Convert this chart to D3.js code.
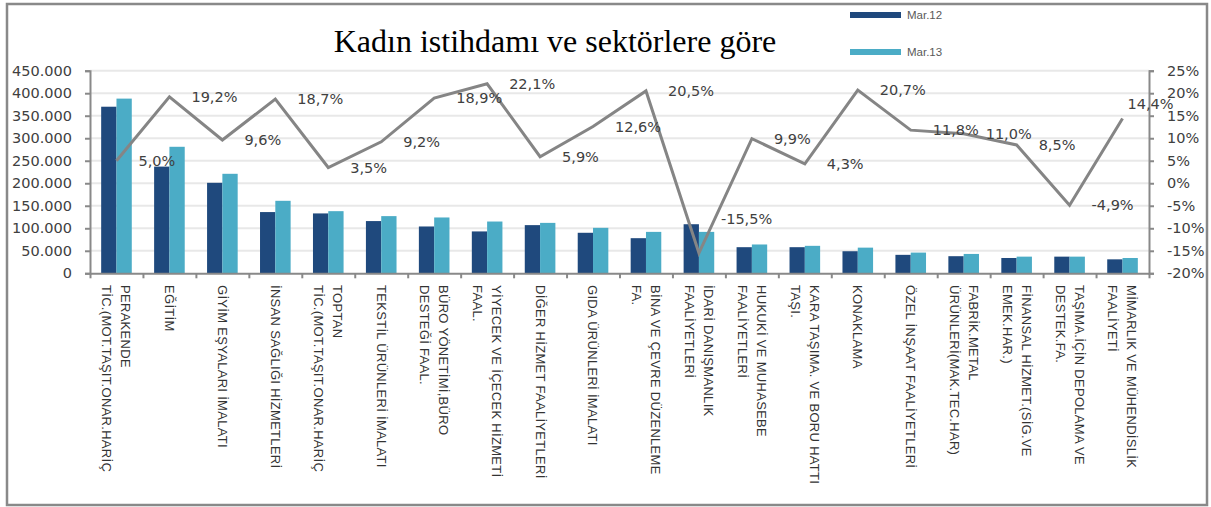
<!DOCTYPE html>
<html>
<head>
<meta charset="utf-8">
<script src="https://cdn.jsdelivr.net/npm/d3@7"></script>
<style>
  body { margin: 0; background: #fff; }
  svg { display: block; }
  .axis text { font-family: "DejaVu Sans", sans-serif; font-size: 14.5px; fill: #404040; }
  .axis path, .axis line { stroke: #898989; stroke-width: 2; }
</style>
</head>
<body>
<div id="chart"></div>
<script>
const categories = [
  ['PERAKENDE', 'TİC.(MOT.TAŞIT.ONAR.HARİÇ'],
  ['EĞİTİM'],
  ['GİYİM EŞYALARI İMALATI'],
  ['İNSAN SAĞLIĞI HİZMETLERİ'],
  ['TOPTAN', 'TİC.(MOT.TAŞIT.ONAR.HARİÇ'],
  ['TEKSTİL ÜRÜNLERİ İMALATI'],
  ['BÜRO YÖNETİMİ,BÜRO', 'DESTEĞİ FAAL.'],
  ['YİYECEK VE İÇECEK HİZMETİ', 'FAAL.'],
  ['DİĞER HİZMET FAALİYETLERİ'],
  ['GIDA ÜRÜNLERİ İMALATI'],
  ['BİNA VE ÇEVRE DÜZENLEME', 'FA.'],
  ['İDARİ DANIŞMANLIK', 'FAALİYETLERİ'],
  ['HUKUKİ VE MUHASEBE', 'FAALİYETLERİ'],
  ['KARA TAŞIMA. VE BORU HATTI', 'TAŞI.'],
  ['KONAKLAMA'],
  ['ÖZEL İNŞAAT FAALİYETLERİ'],
  ['FABRİK.METAL', 'ÜRÜNLERİ(MAK.TEC.HAR)'],
  ['FİNANSAL HİZMET.(SİG.VE', 'EMEK.HAR.)'],
  ['TAŞIMA.İÇİN DEPOLAMA VE', 'DESTEK.FA.'],
  ['MİMARLIK VE MÜHENDİSLİK', 'FAALİYETİ'],
];

const seriesNames = ['Mar.12', 'Mar.13'];
const mar12 = [370000, 237000, 201000, 136000, 133000, 116000, 104000, 93000, 107000, 90000,
  78000, 109000, 58000, 58000, 49000, 41000, 38000, 34000, 37000, 31000];
const mar13 = [388000, 281000, 221000, 161000, 138000, 127000, 124000, 115000, 112000, 101000,
  92000, 92000, 64000, 61000, 57000, 46000, 43000, 37000, 37000, 34000];
const change = [5.0, 19.2, 9.6, 18.7, 3.5, 9.2, 18.9, 22.1, 5.9, 12.6,
  20.5, -15.5, 9.9, 4.3, 20.7, 11.8, 11.0, 8.5, -4.9, 14.4];

const leftTicks = [0, 50000, 100000, 150000, 200000, 250000, 300000, 350000, 400000, 450000];
const rightTicks = [-20, -15, -10, -5, 0, 5, 10, 15, 20, 25];

const title = 'Kadın istihdamı ve sektörlere göre';
const colors = ['#1f497d', '#4bacc6'];

const width = 1211;
const height = 507;
const plot = { left: 90, right: 1149, top: 70.7, bottom: 273.3 };

const svg = d3.select('#chart').append('svg').attr('width', width).attr('height', height);

// outer frame
svg.append('rect')
  .attr('x', 7).attr('y', 4).attr('width', 1200).attr('height', 501)
  .attr('fill', 'none').attr('stroke', '#898989').attr('stroke-width', 2.5);

const x = d3.scaleBand().domain(d3.range(categories.length)).range([plot.left, plot.right]);
const xSub = d3.scaleBand().domain([0, 1]).range([0, x.bandwidth()]).paddingOuter(0.73);
const y = d3.scaleLinear().domain([0, 450000]).range([plot.bottom, plot.top]);
const y2 = d3.scaleLinear().domain([-20, 25]).range([plot.bottom, plot.top]);

// gridlines
svg.append('g').selectAll('line')
  .data(leftTicks.slice(1))
  .join('line')
  .attr('x1', plot.left).attr('x2', plot.right)
  .attr('y1', d => y(d)).attr('y2', d => y(d))
  .attr('stroke', '#e8e8e8').attr('stroke-width', 2);

// bars
const table = categories.map((c, i) => [mar12[i], mar13[i]]);
svg.append('g').selectAll('g')
  .data(table)
  .join('g')
  .attr('transform', (d, i) => `translate(${x(i)},0)`)
  .selectAll('rect')
  .data(d => d)
  .join('rect')
  .attr('x', (d, j) => xSub(j))
  .attr('width', xSub.bandwidth())
  .attr('y', d => y(d))
  .attr('height', d => y(0) - y(d))
  .attr('fill', (d, j) => colors[j]);

// axes
const fmtThousands = d => (d === 0 ? '0' : d3.format(',')(d).replace(/,/g, '.'));
svg.append('g').attr('class', 'axis')
  .attr('transform', `translate(${plot.left},0)`)
  .call(d3.axisLeft(y).tickValues(leftTicks).tickFormat(fmtThousands).tickSize(5).tickSizeOuter(5).tickPadding(13));

svg.append('g').attr('class', 'axis')
  .attr('transform', `translate(${plot.right},0)`)
  .call(d3.axisRight(y2).tickValues(rightTicks).tickFormat(d => `${d}%`).tickSize(5).tickSizeOuter(5).tickPadding(13));

const boundaries = d3.scaleLinear().domain([0, categories.length]).range([plot.left, plot.right]);
svg.append('g').attr('class', 'axis')
  .attr('transform', `translate(0,${plot.bottom})`)
  .call(d3.axisBottom(boundaries).ticks(categories.length).tickFormat('').tickSize(5).tickSizeOuter(0));

// category labels, rotated
const catLabels = svg.append('g').selectAll('text')
  .data(categories)
  .join('text')
  .attr('transform', (d, i) => `translate(${x(i) + x.bandwidth() / 2},285) rotate(90)`)
  .attr('font-family', '"Liberation Sans", Arial, sans-serif')
  .attr('font-size', 13)
  .attr('letter-spacing', 0.3)
  .attr('fill', '#333');

catLabels.selectAll('tspan')
  .data(d => d.map((t, k) => ({ t, k, n: d.length })))
  .join('tspan')
  .attr('x', 0)
  .attr('y', d => (d.k - (d.n - 1) / 2) * 19)
  .attr('dy', '0.35em')
  .text(d => d.t);

// change line
const cx = i => x(i) + x.bandwidth() / 2;
const line = d3.line().x((d, i) => cx(i)).y(d => y2(d));
svg.append('path')
  .datum(change)
  .attr('d', line)
  .attr('fill', 'none')
  .attr('stroke', '#858585')
  .attr('stroke-width', 3)
  .attr('stroke-linejoin', 'miter');

// change labels: to the right of each point; the last one sits above,
// and a deep negative one is lifted clear of the bars
const last = change.length - 1;
const labelDx = (d, i) => (i === last ? 5 : 22);
const labelDy = (d, i) => (i === last ? -14 : d < -10 ? -34 : 0);
svg.append('g').selectAll('text')
  .data(change)
  .join('text')
  .attr('x', (d, i) => cx(i) + labelDx(d, i))
  .attr('y', (d, i) => y2(d) + labelDy(d, i))
  .attr('dy', '0.35em')
  .attr('font-family', '"DejaVu Sans", sans-serif')
  .attr('font-size', 14.5)
  .attr('fill', '#404040')
  .text(d => `${d.toFixed(1).replace('.', ',')}%`);

// title
svg.append('text')
  .attr('x', 555).attr('y', 52)
  .attr('text-anchor', 'middle')
  .attr('font-family', '"Liberation Serif", "Times New Roman", serif')
  .attr('font-size', 32)
  .attr('fill', '#000')
  .text(title);

// legend
const legend = svg.append('g').selectAll('g')
  .data(seriesNames)
  .join('g')
  .attr('transform', (d, i) => `translate(850,${15 + i * 37})`);
legend.append('rect')
  .attr('x', 0).attr('y', -3).attr('width', 51).attr('height', 6)
  .attr('fill', (d, i) => colors[i]);
legend.append('text')
  .attr('x', 57).attr('dy', '0.35em')
  .attr('font-family', '"Liberation Sans", Arial, sans-serif')
  .attr('font-size', 11.5)
  .attr('fill', '#595959')
  .text(d => d);
</script>
</body>
</html>
